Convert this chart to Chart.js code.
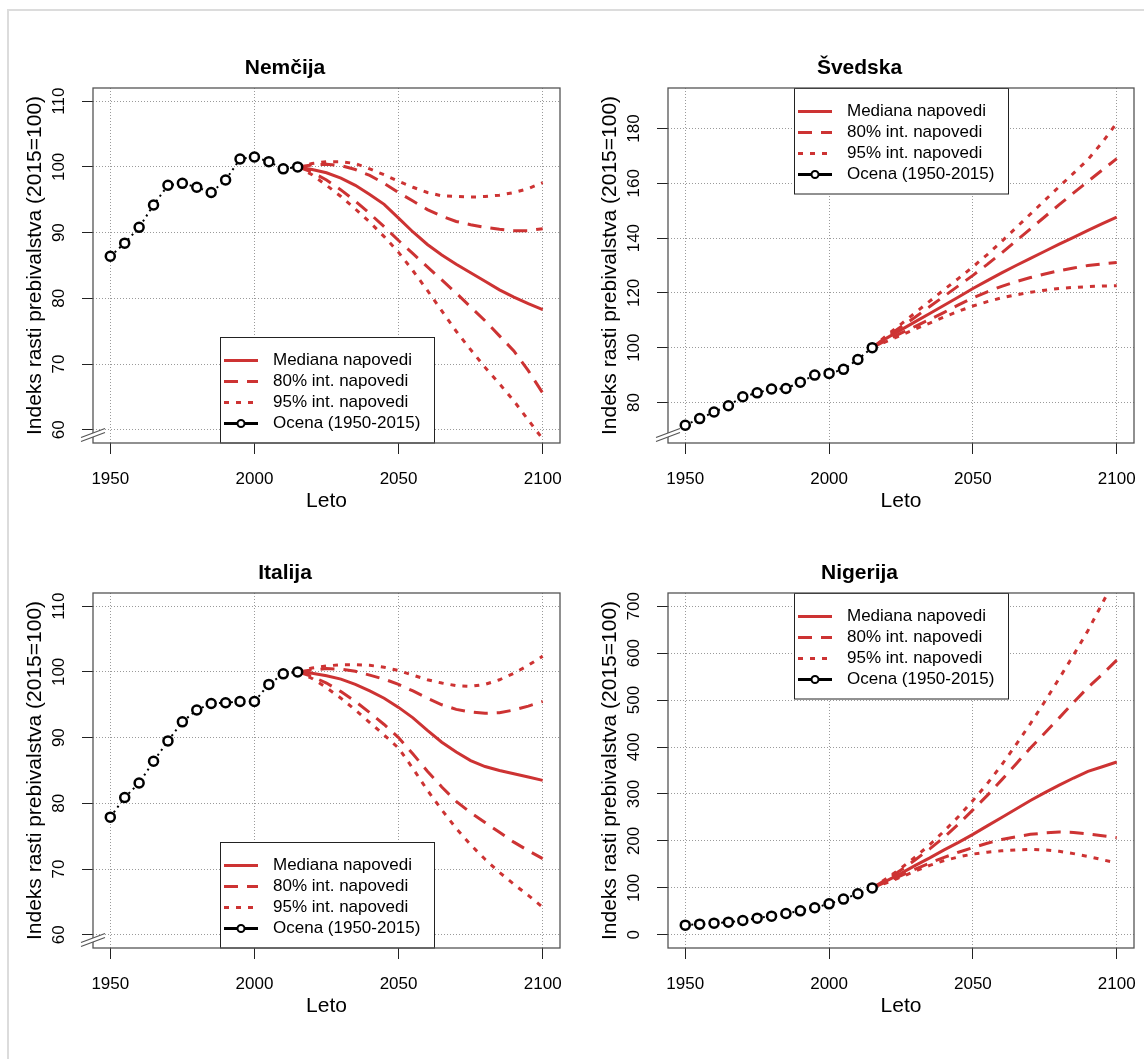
<!DOCTYPE html>
<html>
<head>
<meta charset="utf-8">
<script src="https://cdn.jsdelivr.net/npm/chart.js@4.4.0/dist/chart.umd.min.js"></script>
<style>
  html, body { margin: 0; padding: 0; background: #fff; }
  body { width: 1144px; height: 1059px; position: relative; overflow: hidden; }
  #frame { position: absolute; left: 7px; top: 9px; width: 1150px; height: 1060px;
           border-top: 2px solid #dcdcdc; border-left: 2px solid #dcdcdc; }
  canvas { position: absolute; }
</style>
</head>
<body>
<div id="frame"></div>
<canvas id="c1"></canvas>
<canvas id="c2"></canvas>
<canvas id="c3"></canvas>
<canvas id="c4"></canvas>
<script>
// ---- data ----
const histYears = [1950, 1955, 1960, 1965, 1970, 1975, 1980, 1985, 1990, 1995, 2000, 2005, 2010, 2015];
const projYears = [2015, 2020, 2025, 2030, 2035, 2040, 2045, 2050, 2055, 2060, 2065, 2070, 2075, 2080, 2085, 2090, 2095, 2100];
const xTicks = [1950, 2000, 2050, 2100];
const legendLabels = ["Mediana napovedi", "80% int. napovedi", "95% int. napovedi", "Ocena (1950-2015)"];

// Nemčija
const deHist   = [86.4, 88.4, 90.8, 94.2, 97.2, 97.5, 96.9, 96.1, 98.0, 101.2, 101.5, 100.8, 99.7, 100];
const deMedian = [100, 99.6, 99.1, 98.3, 97.2, 95.8, 94.3, 92.2, 90.1, 88.2, 86.6, 85.2, 83.9, 82.6, 81.3, 80.2, 79.2, 78.3];
const deHi80   = [100, 100.3, 100.4, 100.2, 99.6, 98.7, 97.5, 96.1, 94.8, 93.5, 92.5, 91.7, 91.2, 90.8, 90.5, 90.3, 90.3, 90.6];
const deLo80   = [100, 99.2, 98.0, 96.5, 94.8, 92.9, 90.9, 88.8, 86.8, 84.8, 82.8, 80.8, 78.7, 76.6, 74.3, 72.0, 69.0, 65.6];
const deHi95   = [100, 100.5, 100.8, 100.8, 100.5, 99.7, 98.8, 97.8, 96.9, 96.1, 95.6, 95.5, 95.4, 95.5, 95.7, 96.1, 96.7, 97.6];
const deLo95   = [100, 98.8, 97.2, 95.5, 93.6, 91.6, 89.4, 87.0, 84.2, 81.2, 78.1, 75.0, 72.2, 69.5, 67.0, 64.4, 61.5, 58.6];
const deTicks  = [60, 70, 80, 90, 100, 110];

// Švedska
const seHist   = [71.7, 74.1, 76.5, 78.8, 82.1, 83.5, 84.9, 85.1, 87.4, 90.0, 90.6, 92.1, 95.7, 100];
const seMedian = [100, 103.5, 106.5, 109.5, 112.5, 115.5, 118.5, 121.6, 124.5, 127.3, 130.0, 132.6, 135.2, 137.8, 140.3, 142.8, 145.3, 147.7];
const seHi80   = [100, 104.0, 107.6, 111.2, 115.0, 118.8, 122.6, 126.4, 130.4, 134.6, 139.0, 143.4, 147.8, 152.2, 156.5, 160.7, 164.9, 169.0];
const seLo80   = [100, 102.8, 105.3, 107.8, 110.3, 112.9, 115.6, 118.2, 120.4, 122.4, 124.1, 125.6, 126.9, 128.1, 129.1, 130.0, 130.6, 131.1];
const seHi95   = [100, 104.5, 108.6, 112.8, 117.0, 121.2, 125.3, 129.5, 134.0, 138.8, 143.8, 148.8, 153.8, 158.8, 163.7, 168.7, 175.0, 182.0];
const seLo95   = [100, 102.3, 104.5, 106.8, 109.0, 111.2, 113.3, 115.2, 116.8, 118.2, 119.3, 120.2, 121.0, 121.6, 122.0, 122.3, 122.5, 122.6];
const seTicks  = [80, 100, 120, 140, 160, 180];

// Italija
const itHist   = [77.9, 80.9, 83.1, 86.4, 89.5, 92.4, 94.2, 95.2, 95.3, 95.5, 95.5, 98.1, 99.7, 100];
const itMedian = [100, 99.8, 99.4, 98.9, 98.1, 97.1, 96.0, 94.6, 93.0, 91.1, 89.3, 87.8, 86.5, 85.6, 85.0, 84.5, 84.0, 83.5];
const itHi80   = [100, 100.3, 100.5, 100.4, 100.1, 99.5, 98.9, 98.1, 97.1, 96.0, 95.0, 94.3, 93.9, 93.7, 93.8, 94.2, 94.8, 95.5];
const itLo80   = [100, 99.3, 98.3, 97.0, 95.5, 93.8, 92.0, 90.0, 87.5, 84.9, 82.5, 80.3, 78.6, 77.1, 75.6, 74.1, 72.8, 71.6];
const itHi95   = [100, 100.6, 100.9, 101.1, 101.1, 101.0, 100.7, 100.2, 99.5, 98.8, 98.3, 97.9, 97.8, 98.1, 98.8, 99.8, 101.0, 102.4];
const itLo95   = [100, 99.0, 97.6, 96.0, 94.2, 92.3, 90.4, 88.4, 85.3, 82.0, 79.0, 76.2, 73.7, 71.5, 69.5, 67.7, 66.0, 64.2];
const itTicks  = [60, 70, 80, 90, 100, 110];

// Nigerija
const ngHist   = [20.6, 22.8, 24.9, 27.0, 30.6, 35.6, 39.8, 45.5, 51.2, 57.6, 66.1, 76.1, 87.5, 100];
const ngMedian = [100, 115, 131, 148, 164, 181, 197, 214, 232, 250, 268, 286, 303, 319, 334, 348, 358, 368];
const ngHi80   = [100, 118, 138, 160, 183, 208, 236, 266, 297, 330, 364, 398, 430, 462, 495, 527, 555, 585];
const ngLo80   = [100, 113, 126, 140, 153, 165, 176, 186, 195, 203, 209, 214, 217, 219, 218, 215, 211, 207];
const ngHi95   = [100, 120, 142, 166, 192, 221, 252, 286, 322, 362, 405, 450, 497, 546, 596, 648, 706, 765];
const ngLo95   = [100, 111, 123, 136, 148, 158, 166, 172, 176, 179, 181, 182, 181, 178, 173, 167, 160, 153];
const ngTicks  = [0, 100, 200, 300, 400, 500, 600, 700];

// ---- styling / layout ----
const RED = "#CD3333";
const FONT = '"Liberation Sans", Arial, Helvetica, sans-serif';
const YAXIS_W = 83, TITLE_H = 50, XAXIS_H = 72, PAD_R = 22;
Chart.defaults.color = "#000";
Chart.defaults.font.family = FONT;

const panels = [
  { id: "c1", title: "Nemčija",  hist: deHist, med: deMedian, hi80: deHi80, lo80: deLo80, hi95: deHi95, lo95: deLo95,
    ticks: deTicks, ymin: 58, ymax: 112, legend: "bottom", brk: true, L: 93, T: 88, R: 560, B: 443 },
  { id: "c2", title: "Švedska",  hist: seHist, med: seMedian, hi80: seHi80, lo80: seLo80, hi95: seHi95, lo95: seLo95,
    ticks: seTicks, ymin: 65.2, ymax: 194.8, legend: "top", brk: true, L: 668, T: 88, R: 1134, B: 443 },
  { id: "c3", title: "Italija",  hist: itHist, med: itMedian, hi80: itHi80, lo80: itLo80, hi95: itHi95, lo95: itLo95,
    ticks: itTicks, ymin: 58, ymax: 112, legend: "bottom", brk: true, L: 93, T: 593, R: 560, B: 948 },
  { id: "c4", title: "Nigerija", hist: ngHist, med: ngMedian, hi80: ngHi80, lo80: ngLo80, hi95: ngHi95, lo95: ngLo95,
    ticks: ngTicks, ymin: -28, ymax: 728, legend: "top", brk: false, L: 668, T: 593, R: 1134, B: 948 }
];

const legendStyles = [
  { color: RED, dash: [] },
  { color: RED, dash: [14, 9] },
  { color: RED, dash: [5, 7] },
  { color: "#000", dash: [], point: true }
];

// box, legend and axis break drawn inside the plot region
const rPlot = {
  id: "rPlot",
  afterDatasetsDraw(chart, args, opts) {
    const { ctx, chartArea: a } = chart;
    ctx.save();
    // legend
    const w = 214, h = 106;
    const x0 = Math.round((a.left + a.right) / 2 - w / 2);
    const y0 = opts.legend === "top" ? a.top : a.bottom - h;
    ctx.fillStyle = "#fff";
    ctx.fillRect(x0, y0, w, h);
    ctx.strokeStyle = "#222";
    ctx.lineWidth = 1;
    ctx.strokeRect(x0 + 0.5, y0 + 0.5, w, h - 0.5);
    ctx.font = "17px " + FONT;
    ctx.textBaseline = "middle";
    legendLabels.forEach((lab, i) => {
      const st = legendStyles[i];
      const cy = y0 + 23.5 + i * 21;
      ctx.beginPath();
      ctx.setLineDash(st.dash);
      ctx.strokeStyle = st.color;
      ctx.lineWidth = 3;
      ctx.moveTo(x0 + 4, cy);
      ctx.lineTo(x0 + 38, cy);
      ctx.stroke();
      ctx.setLineDash([]);
      if (st.point) {
        ctx.beginPath();
        ctx.arc(x0 + 21, cy, 3.5, 0, Math.PI * 2);
        ctx.fillStyle = "#fff";
        ctx.fill();
        ctx.lineWidth = 2;
        ctx.stroke();
      }
      ctx.fillStyle = "#000";
      ctx.fillText(lab, x0 + 53, cy);
    });
    // plot box
    ctx.strokeStyle = "#555";
    ctx.lineWidth = 1.3;
    ctx.strokeRect(a.left, a.top, a.right - a.left, a.bottom - a.top);
    // axis break
    if (opts.brk) {
      const cx = a.left, cy = a.bottom - 8;
      ctx.beginPath();
      ctx.moveTo(cx - 12, cy + 6.5); ctx.lineTo(cx + 12, cy - 2.5);
      ctx.lineTo(cx + 12, cy - 6.5); ctx.lineTo(cx - 12, cy + 2.5);
      ctx.closePath();
      ctx.fillStyle = "#fff";
      ctx.fill();
      ctx.strokeStyle = "#555";
      ctx.lineWidth = 1.2;
      ctx.beginPath();
      ctx.moveTo(cx - 12, cy + 6.5); ctx.lineTo(cx + 12, cy - 2.5);
      ctx.moveTo(cx - 12, cy + 2.5); ctx.lineTo(cx + 12, cy - 6.5);
      ctx.stroke();
    }
    ctx.restore();
  }
};

function pairs(xs, ys) {
  return xs.map((x, i) => ({ x: x, y: ys[i] }));
}

function redLine(ys, dash, lab) {
  return {
    label: lab, data: pairs(projYears, ys), borderColor: RED, borderWidth: 3,
    borderDash: dash, pointRadius: 0, tension: 0, fill: false
  };
}

function makePanel(p) {
  const cv = document.getElementById(p.id);
  const w = (p.R - p.L) + YAXIS_W + PAD_R;
  const h = (p.B - p.T) + TITLE_H + XAXIS_H;
  cv.width = w; cv.height = h;
  cv.style.left = (p.L - YAXIS_W) + "px";
  cv.style.top = (p.T - TITLE_H) + "px";
  cv.style.width = w + "px";
  cv.style.height = h + "px";

  new Chart(cv, {
    type: "line",
    data: {
      datasets: [
        { label: legendLabels[3], data: pairs(histYears, p.hist), borderColor: "#000", borderWidth: 2,
          borderDash: [2, 4], pointRadius: 4.5, pointBorderWidth: 2.5, pointBorderColor: "#000",
          pointBackgroundColor: "#fff", tension: 0 },
        redLine(p.med, [], legendLabels[0]),
        redLine(p.hi80, [14, 9], legendLabels[1]),
        redLine(p.lo80, [14, 9], legendLabels[1]),
        redLine(p.hi95, [5, 7], legendLabels[2]),
        redLine(p.lo95, [5, 7], legendLabels[2])
      ]
    },
    options: {
      responsive: false,
      animation: false,
      devicePixelRatio: 1,
      layout: { padding: { left: 0, top: 0, right: PAD_R, bottom: 0 } },
      plugins: {
        legend: { display: false },
        tooltip: { enabled: false },
        title: { display: true, text: p.title, color: "#000",
                 font: { size: 21, weight: "bold", family: FONT },
                 padding: { top: 17.4, bottom: 7.4 } },
        rPlot: { legend: p.legend, brk: p.brk }
      },
      scales: {
        x: {
          type: "linear", min: 1944, max: 2106,
          afterBuildTicks: s => { s.ticks = xTicks.map(v => ({ value: v })); },
          afterFit: s => { s.height = XAXIS_H; },
          ticks: { autoSkip: false, padding: 14.8, maxRotation: 0, font: { size: 17 },
                   callback: v => String(v) },
          grid: { color: "#9a9a9a", tickLength: 11, tickColor: "#222", tickWidth: 1 },
          border: { display: false, dash: [1, 2] },
          title: { display: true, text: "Leto", font: { size: 21 }, padding: { top: 0, bottom: 0.7 } }
        },
        y: {
          type: "linear", min: p.ymin, max: p.ymax,
          afterBuildTicks: s => { s.ticks = p.ticks.map(v => ({ value: v })); },
          afterFit: s => { s.width = YAXIS_W; },
          ticks: { autoSkip: false, padding: 8.8, minRotation: 90, maxRotation: 90, crossAlign: "center",
                   font: { size: 17 }, callback: v => String(v) },
          grid: { color: "#9a9a9a", tickLength: 11, tickColor: "#222", tickWidth: 1 },
          border: { display: false, dash: [1, 2] },
          title: { display: true, text: "Indeks rasti prebivalstva (2015=100)", font: { size: 21 },
                   padding: { top: 12.4, bottom: 0 } }
        }
      }
    },
    plugins: [rPlot]
  });
}

panels.forEach(makePanel);
</script>
</body>
</html>
